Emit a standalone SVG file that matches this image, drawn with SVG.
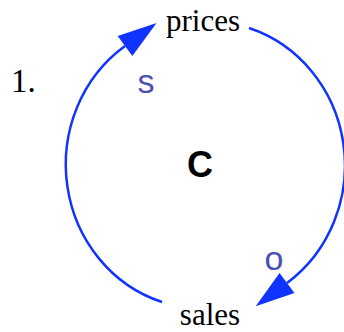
<svg xmlns="http://www.w3.org/2000/svg" width="344" height="332" viewBox="0 0 344 332">
<style>
.lbl{font-family:"Liberation Serif","Times New Roman",serif;font-size:31px;fill:#000}
.num{font-family:"Liberation Serif","Times New Roman",serif;font-size:33px;fill:#000}
.pol{font-family:"Liberation Sans",Arial,sans-serif;font-size:34px;fill:#4b50b4}
.ttl{font-family:"Liberation Sans",Arial,sans-serif;font-size:36px;font-weight:bold;fill:#000}
.lnk{fill:none;stroke:#1133ff;stroke-width:2.5}
</style>
<defs>
<marker id="ah" markerUnits="userSpaceOnUse" markerWidth="40" markerHeight="26" refX="0" refY="12.5" orient="auto" overflow="visible">
<path d="M0,0 L39,12.5 L0,25 z" fill="#1133ff"/>
</marker>
</defs>
<text x="11" y="92" class="num">1.</text>
<g id="connectors">
<path class="lnk" d="M162,302 A137,144 0 0 1 125,46" marker-end="url(#ah)"/>
<path class="lnk" d="M249,28 A137,144 0 0 1 287,283" marker-end="url(#ah)"/>
<text x="146" y="93" class="pol" text-anchor="middle">s</text>
<text x="274" y="270" class="pol" text-anchor="middle">o</text>
</g>
<g id="prices"><text x="203" y="31" class="lbl" text-anchor="middle">prices</text></g>
<g id="sales"><text x="210" y="325" class="lbl" text-anchor="middle">sales</text></g>
<g id="loop"><text x="200" y="177" class="ttl" text-anchor="middle">C</text></g>
</svg>
